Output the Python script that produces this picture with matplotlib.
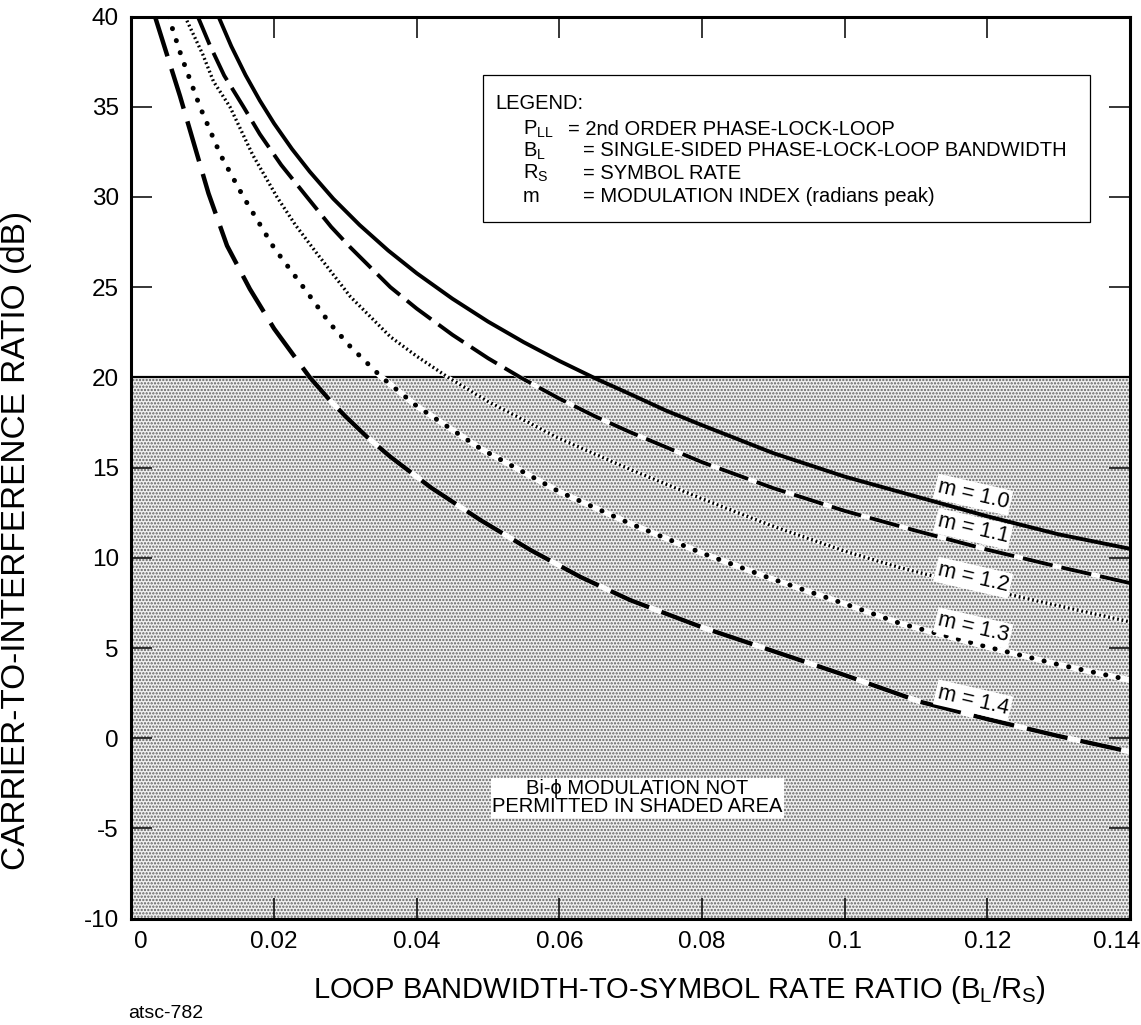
import numpy as np
import matplotlib
matplotlib.use('Agg')
import matplotlib.pyplot as plt
import matplotlib.transforms as mtransforms

plt.rcParams['font.family'] = ['Liberation Sans', 'DejaVu Sans']
plt.rcParams['axes.unicode_minus'] = False
plt.rcParams['lines.scale_dashes'] = False
plt.rcParams['hatch.linewidth'] = 1.1
plt.rcParams['mathtext.fontset'] = 'custom'
plt.rcParams['mathtext.rm'] = 'Liberation Sans'

# curves (x = BL/RS, y = C/I in dB)
x_m10 = [0.0122, 0.014, 0.016, 0.018, 0.02, 0.0225, 0.025, 0.0283, 0.032, 0.036, 0.04, 0.045,
         0.05, 0.055, 0.06, 0.065, 0.07, 0.075, 0.08, 0.09, 0.1, 0.11, 0.12, 0.13, 0.14]
y_m10 = [40, 38.35, 36.75, 35.34, 34.07, 32.66, 31.4, 29.9, 28.44, 27.03, 25.77, 24.36,
         23.09, 21.95, 20.91, 19.95, 19.06, 18.15, 17.35, 15.8, 14.5, 13.4, 12.3, 11.3, 10.5]

x_m11 = [0.0093, 0.011, 0.013, 0.0157, 0.018, 0.021, 0.0246, 0.028, 0.0307, 0.0363, 0.04, 0.045,
         0.05, 0.0547, 0.06, 0.065, 0.07, 0.08, 0.09, 0.1, 0.11, 0.12, 0.13, 0.14]
y_m11 = [40, 38.4, 36.73, 35, 33.48, 31.77, 30, 28.34, 27.2, 25, 23.81, 22.36,
         21.06, 19.96, 18.82, 17.84, 16.95, 15.3, 13.86, 12.6, 11.5, 10.45, 9.5, 8.6]

x_m12 = [0.0075, 0.01, 0.0115, 0.0138, 0.017, 0.0204, 0.023, 0.026, 0.0307, 0.0363, 0.04, 0.0444,
         0.05, 0.06, 0.0699, 0.08, 0.0896, 0.1, 0.1078, 0.12, 0.13, 0.14]
y_m12 = [40, 37.9, 36.4, 35, 32.33, 30, 28.44, 26.87, 24.47, 22.25, 21.17, 20,
         18.66, 16.61, 14.9, 13.27, 11.8, 10.37, 9.45, 8.24, 7.34, 6.45]

x_m13 = [0.0052, 0.007, 0.0096, 0.0125, 0.0157, 0.02, 0.0241, 0.0278, 0.0307, 0.0351, 0.04, 0.0489,
         0.06, 0.0699, 0.08, 0.0896, 0.1, 0.1078, 0.12, 0.13, 0.14]
y_m13 = [40, 37.8, 35, 32.32, 30, 27.17, 25, 23.0, 21.7, 20, 18.41, 16.06,
         13.66, 11.9, 10.26, 8.86, 7.45, 6.36, 5.06, 4.08, 3.22]

x_m14 = [0.0033, 0.005, 0.0068, 0.0088, 0.0108, 0.0134, 0.0166, 0.02, 0.025, 0.0278, 0.03, 0.033,
         0.0363, 0.042, 0.0489, 0.056, 0.063, 0.0699, 0.08, 0.0896, 0.1, 0.1106, 0.12, 0.13, 0.14]
y_m14 = [40, 37.86, 35.6, 32.9, 30.2, 27.3, 24.9, 22.7, 20, 18.74, 17.84, 16.71,
         15.6, 13.89, 12.1, 10.42, 8.93, 7.66, 6.15, 4.88, 3.5, 2.02, 1.06, 0.12, -0.75]

curve_labels = ['m = 1.0', 'm = 1.1', 'm = 1.2', 'm = 1.3', 'm = 1.4']
label_x = [0.118, 0.118, 0.118, 0.118, 0.118]
label_y = [13.5, 11.6, 8.9, 6.1, 2.1]

xticks = [0, 0.02, 0.04, 0.06, 0.08, 0.1, 0.12, 0.14]
xtick_labels = ['0', '0.02', '0.04', '0.06', '0.08', '0.1', '0.12', '0.14']
yticks = [-10, -5, 0, 5, 10, 15, 20, 25, 30, 35, 40]
limit_db = 20

fig = plt.figure(figsize=(11.41, 10.25), dpi=100)
ax = fig.add_axes([0.1152, 0.1037, 0.8752, 0.8802])

# shaded "not permitted" area
ax.fill_between([0, 0.14], -10, limit_db, facecolor='#f0f0f0', edgecolor='#606060',
                hatch='.....', linewidth=0, zorder=0)
ax.axhline(limit_db, color='black', lw=1.6, zorder=1)

ax.plot(x_m10, y_m10, color='black', lw=2.8, solid_capstyle='butt', zorder=3)

styles = [
    (x_m11, y_m11, 2.8, (0, (22, 6.5)), 'butt'),
    (x_m12, y_m12, 2.4, (0, (1.3, 2.0)), 'butt'),
    (x_m13, y_m13, 3.6, (0, (0.1, 9.0)), 'round'),
    (x_m14, y_m14, 3.2, (0, (30, 9.5)), 'butt'),
]
for xs, ys, lw, ls, cap in styles:
    ax.plot(xs, ys, color='white', lw=lw + 0.6, solid_capstyle='butt', zorder=2)
    ax.plot(xs, ys, color='black', lw=lw, linestyle=ls, dash_capstyle=cap, zorder=3)

for txt, lx, ly in zip(curve_labels, label_x, label_y):
    ax.text(lx, ly, txt, fontsize=15.5, rotation=-13, rotation_mode='anchor',
            ha='center', va='center', zorder=4,
            bbox=dict(facecolor='white', edgecolor='none', pad=1.5))

# legend box
ax.add_patch(plt.Rectangle((0.0493, 28.6), 0.0851, 8.16, facecolor='white',
                           edgecolor='black', lw=0.9, zorder=4))
ax.text(0.0510, 35.2, 'LEGEND:', fontsize=14.5, va='center', zorder=5)
leg_sym = ['P$_\\mathregular{LL}$', 'B$_\\mathregular{L}$', 'R$_\\mathregular{S}$', 'm']
leg_txt = ['= 2nd ORDER PHASE-LOCK-LOOP', '= SINGLE-SIDED PHASE-LOCK-LOOP BANDWIDTH',
           '= SYMBOL RATE', '= MODULATION INDEX (radians peak)']
leg_y = [33.76, 32.55, 31.3, 30.0]
leg_eq_x = [0.0612, 0.0633, 0.0633, 0.0633]
for s, t, yy, ex in zip(leg_sym, leg_txt, leg_y, leg_eq_x):
    ax.text(0.0549, yy, s, fontsize=14.5, va='center', zorder=5)
    ax.text(ex, yy, t, fontsize=14.5, va='center', zorder=5)

ax.text(0.0709, -3.3, 'Bi-\u03d5 MODULATION NOT\nPERMITTED IN SHADED AREA', fontsize=14.5,
        ha='center', va='center', linespacing=0.95, zorder=4,
        bbox=dict(facecolor='white', edgecolor='none', pad=1.0))

ax.set_xlim(0, 0.14)
ax.set_ylim(-10, 40)
ax.set_xticks(xticks)
ax.set_xticklabels(xtick_labels)
ax.set_yticks(yticks)
ax.tick_params(direction='in', length=15, width=1.1, labelsize=17.5, pad=9,
               top=True, right=True)
for sp in ax.spines.values():
    sp.set_linewidth(2.2)
    sp.set_zorder(6)

# first and last x labels sit slightly inside the frame in the original
xlabs = ax.get_xticklabels()
xlabs[0].set_transform(xlabs[0].get_transform() +
                       mtransforms.ScaledTranslation(0.09, 0, fig.dpi_scale_trans))
xlabs[-1].set_transform(xlabs[-1].get_transform() +
                        mtransforms.ScaledTranslation(-0.13, 0, fig.dpi_scale_trans))

fig.text(17 / 1141, 1 - 540 / 1025, 'CARRIER-TO-INTERFERENCE RATIO (dB)', rotation=90,
         ha='center', va='center', fontsize=24)
fig.text(679 / 1141, 1 - 990 / 1025,
         'LOOP BANDWIDTH-TO-SYMBOL RATE RATIO (B$_\\mathregular{L}$/R$_\\mathregular{S}$)',
         ha='center', va='center', fontsize=21)
fig.text(128 / 1141, 1 - 1013 / 1025, 'atsc-782', ha='left', va='center', fontsize=14)

fig.savefig('out.png', dpi=100)
